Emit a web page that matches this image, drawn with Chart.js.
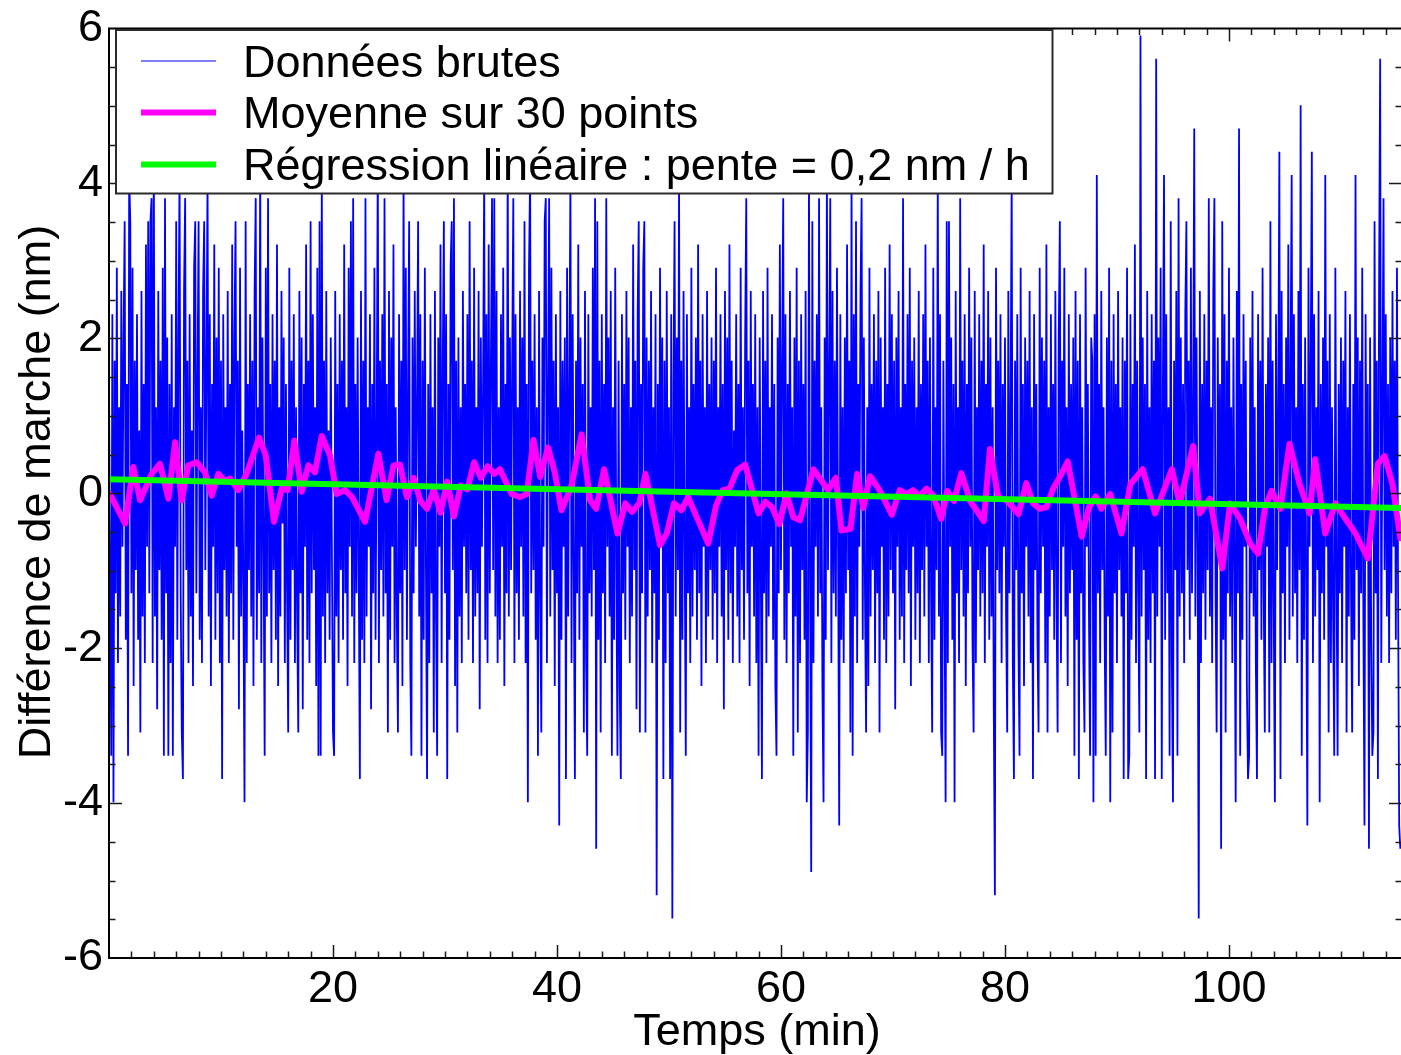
<!DOCTYPE html>
<html>
<head>
<meta charset="utf-8">
<script src="https://cdn.jsdelivr.net/npm/chart.js@4/dist/chart.umd.min.js"></script>
<style>
  html, body { margin: 0; padding: 0; background: #ffffff; overflow: hidden; }
  #wrap { position: relative; width: 1410px; height: 1055px; }
</style>
</head>
<body>
<div id="wrap"><canvas id="chart" width="1410" height="1055"></canvas></div>
<script>
// Sampling interval of the raw acquisition (minutes)
const SAMPLE_STEP_MIN = 0.1;

// Raw optical path difference samples (nm), one every SAMPLE_STEP_MIN
const rawValues = [
  1.41,-0.99,-3.39,2.31,-3.99,1.71,-1.29,2.91,-2.19,1.11,-1.59,2.61,-0.69,2.01,3.51,-1.89,1.41,-3.39,4.11,3.51,
  -1.29,2.91,-2.49,1.71,-0.99,2.31,-1.89,0.81,-3.09,2.61,-1.59,1.41,-2.19,3.21,-0.69,3.51,-1.29,3.51,3.81,-2.19,
  4.41,-1.59,1.11,-2.79,2.61,-0.99,1.71,-1.89,2.91,-3.39,3.81,-1.29,2.01,-3.39,1.41,-2.19,2.31,-3.39,1.11,-0.69,
  3.51,-1.89,2.01,4.11,-1.29,-3.09,-3.69,2.61,3.81,-0.99,1.71,-2.19,2.31,-1.59,0.81,-2.49,2.91,3.51,-1.29,1.41,
  3.51,-1.89,1.11,-2.19,2.61,3.51,-0.99,1.71,4.11,-1.59,2.31,-2.49,1.41,-0.69,3.21,-1.89,2.01,-1.29,2.91,-2.19,
  1.71,-3.69,2.31,-0.99,1.11,-1.59,2.61,-2.19,1.41,-1.29,3.21,-1.89,2.01,3.51,-0.69,1.71,-2.79,2.91,-1.59,0.81,
  -1.29,-3.99,3.51,-2.19,1.41,-0.99,2.31,-1.59,1.71,-2.49,2.61,3.81,-1.89,1.11,-1.29,4.41,-2.19,2.01,-0.69,-3.39,
  2.91,-1.59,3.81,-1.29,1.41,-2.19,2.31,-0.99,1.71,-1.89,3.21,-2.49,1.11,-1.59,2.61,-0.39,2.01,-2.19,1.41,-1.29,
  -3.09,2.91,-1.89,1.71,-0.99,2.31,-2.19,1.11,-1.59,-3.09,2.61,-1.29,2.01,-2.79,1.41,-0.69,3.21,-1.89,1.71,-2.19,
  3.51,-1.29,2.31,-0.99,1.11,-2.49,2.91,-3.39,3.51,-3.39,4.11,-1.59,1.71,-2.19,2.61,-1.29,0.81,-1.89,2.01,-0.69,
  -3.09,-3.39,2.61,-1.59,1.41,-2.19,2.31,-0.99,1.71,-1.89,3.21,-1.29,1.11,-2.49,2.91,-0.69,3.51,-1.59,3.81,-2.19,
  1.41,-1.29,2.01,-0.99,-3.69,2.61,-1.89,1.71,-2.19,3.81,-1.59,1.11,-0.69,2.31,-2.79,1.41,-1.29,2.91,-1.89,0.81,
  4.41,-2.19,1.71,-0.99,2.31,-1.59,3.81,-1.29,1.41,-3.09,2.61,-1.89,2.01,-0.69,3.21,-2.19,1.11,-1.59,-3.09,2.31,
  -1.29,1.71,-2.49,4.11,-0.99,2.91,-1.89,1.41,3.51,-2.19,-3.39,2.01,-1.29,2.61,-0.69,1.11,3.51,-1.59,2.31,-3.39,
  1.71,-1.89,2.91,-0.99,-3.69,1.41,-2.19,2.31,-1.29,1.11,-3.09,2.61,-1.59,-3.39,2.01,-0.69,3.21,-2.19,1.71,3.51,
  -1.29,2.31,-3.69,1.41,-1.89,2.91,3.51,-0.99,3.81,-2.49,1.71,-3.09,2.01,-1.59,1.11,-2.19,2.61,-0.69,1.41,-1.29,
  2.31,-1.89,3.51,-0.99,1.71,-2.19,2.91,-1.59,1.11,-1.29,2.61,-2.79,2.01,-0.69,1.41,4.11,-1.89,2.31,-2.19,3.21,
  -1.29,1.71,3.81,-0.99,3.81,-1.59,2.61,-2.19,1.11,-1.89,2.31,-0.69,2.91,-2.49,1.41,-1.29,4.41,-1.59,2.01,-0.99,
  1.71,3.81,-2.19,2.31,-1.29,1.11,-1.89,2.61,-0.69,2.01,-1.59,3.51,-2.19,1.41,-3.99,2.91,4.11,-1.29,1.71,-0.99,
  2.31,-1.89,1.11,-3.39,2.61,-1.29,-3.09,2.01,-0.69,3.51,3.81,-2.19,1.41,3.81,-1.59,2.91,-0.99,1.71,-2.49,2.31,
  -1.29,1.11,-4.29,2.61,-1.89,1.71,-0.69,2.01,-3.69,2.91,-1.59,1.41,4.11,-2.19,2.31,-0.99,-3.69,1.71,-1.29,3.21,
  -1.89,2.01,-0.69,1.41,-3.09,2.61,-2.19,-3.39,2.31,-1.29,1.11,-1.59,2.91,-0.99,3.81,-4.59,3.51,-1.89,1.71,-3.09,
  2.31,-1.29,1.41,-2.19,3.81,-0.69,2.01,-1.59,2.61,-3.39,1.11,-1.89,2.91,-0.99,-3.39,1.71,-2.49,-3.69,2.31,-1.29,
  1.41,-1.89,2.61,-0.69,2.01,-2.19,1.11,-1.59,3.21,-0.99,1.71,-2.79,2.31,3.51,-3.09,1.41,-1.29,2.91,3.51,-3.09,
  2.01,-1.59,1.71,-0.99,2.61,-2.19,1.11,-1.29,2.31,-5.19,1.41,-1.89,2.91,-0.69,2.01,-3.69,1.71,-2.19,2.61,-1.29,
  1.11,-3.69,2.31,-5.49,1.41,3.51,-1.59,2.01,-0.99,4.11,-3.09,1.71,-1.89,2.61,-0.69,-3.39,2.31,-1.29,1.11,-2.19,
  2.91,-1.59,1.41,-0.99,2.01,-1.89,3.21,-1.29,1.71,-2.49,2.31,-0.69,1.11,-2.19,2.61,-1.59,1.41,-0.99,2.01,-1.89,
  1.71,-1.29,2.91,-2.19,1.11,-0.69,2.31,-1.59,1.41,-2.79,2.61,-0.99,2.01,-1.89,3.21,-1.29,1.71,-2.19,0.81,-0.69,
  2.31,-1.59,1.41,-2.19,2.91,-0.99,1.11,-1.89,2.01,3.81,-1.29,1.71,-2.49,2.61,-0.69,1.41,-1.59,2.31,-2.19,1.11,
  -3.39,2.01,-0.99,-3.69,2.61,-1.29,1.71,-2.19,2.91,-1.59,1.11,-0.69,2.31,-1.89,1.41,-2.49,-3.39,2.01,-1.29,3.21,
  -0.99,1.71,3.81,-1.89,2.31,-2.19,1.41,-1.29,2.61,-0.69,1.11,-3.39,2.01,-1.59,2.91,-3.09,1.71,-2.19,2.31,-0.99,
  1.41,-1.89,2.61,-3.99,-3.09,4.11,-1.29,-4.89,3.51,-2.19,1.71,-0.69,2.31,-1.59,3.81,-1.29,1.11,-2.49,-3.99,2.01,
  -1.89,4.11,-0.99,1.41,3.81,-2.19,2.61,-1.29,1.71,-1.59,2.91,-0.69,-4.29,2.31,-1.89,1.11,-2.19,2.01,-1.29,3.21,
  -0.99,1.71,-3.09,4.11,-3.39,2.31,-1.59,3.51,-2.19,1.41,-0.69,2.61,3.81,-1.89,2.01,-1.29,-3.09,1.11,-2.49,2.91,
  -1.59,1.41,-0.99,2.31,-2.19,1.71,-1.29,2.61,-3.09,2.01,-0.69,1.11,-1.89,2.91,-2.19,1.41,-1.59,3.21,-0.99,2.31,
  -1.29,1.71,-2.79,2.01,-0.69,2.61,-1.89,1.11,-1.59,3.81,-2.19,1.41,-0.99,2.31,-1.29,2.91,-2.49,1.71,-0.69,2.01,
  -1.89,1.11,-1.29,2.61,-2.19,1.41,-0.99,2.31,-1.59,3.21,-0.69,1.71,-2.19,2.01,-1.29,-3.09,2.91,-1.89,1.11,-0.99,
  4.11,-1.59,2.31,-3.09,-3.39,1.71,-1.29,-3.99,3.51,-2.19,3.51,-0.69,2.01,-1.89,1.41,-3.99,2.61,-1.29,1.11,-2.19,
  3.81,-0.99,1.71,-1.59,2.31,-2.49,1.41,-1.29,2.91,-0.69,2.01,-1.89,-3.09,2.61,-2.19,1.11,-0.99,2.31,-1.59,1.71,
  -1.29,3.21,-2.19,1.41,-0.69,2.61,-1.89,2.01,-1.59,1.11,-2.79,-5.19,2.91,-0.99,1.71,-1.29,2.31,-2.19,1.41,-0.69,
  2.01,-1.59,-3.09,2.61,-1.29,1.11,4.11,-2.19,-3.69,1.71,-0.99,2.31,-1.89,-3.39,2.91,-1.29,1.41,-2.49,2.01,-0.69,
  1.71,-1.59,2.61,-2.19,1.11,-3.69,2.31,-0.99,1.41,-1.89,-3.09,2.91,-1.29,2.01,-0.69,1.71,-2.19,3.21,-3.09,1.11,
  -1.59,2.31,-0.99,1.41,-1.89,2.61,-1.29,-3.09,2.01,3.51,-2.19,1.71,-0.69,2.91,-1.59,1.11,-2.49,2.31,-1.29,1.41,
  -0.99,2.01,-3.39,2.61,-1.89,1.71,-3.69,2.31,-1.29,1.11,-2.19,-3.09,2.91,-0.69,1.41,-1.59,-3.39,2.01,1.71,-3.99,
  2.31,-3.39,4.11,-1.29,1.41,-2.19,2.61,-0.99,1.11,-1.89,-3.39,2.01,-1.59,2.91,-3.99,1.71,-3.09,2.31,-1.29,1.41,
  -2.19,2.61,-0.99,1.11,-1.59,2.01,-3.69,1.71,-1.29,2.91,-3.69,-3.39,2.31,-1.89,1.41,-0.69,3.21,-2.19,1.71,-1.29,
  -3.09,5.91,-1.59,2.01,-0.99,1.41,-3.69,2.61,-1.89,1.11,-2.19,2.31,-1.29,1.71,-3.69,5.61,-1.59,2.01,-0.69,2.91,
  -3.69,1.41,4.11,-1.89,2.31,-1.29,1.11,-3.39,3.51,-2.19,-3.99,1.71,-0.99,2.61,-3.39,3.81,-1.59,2.01,-1.29,1.41,
  -2.19,2.31,3.51,-0.99,1.71,-1.89,2.91,-1.29,1.11,4.71,-1.59,2.01,-0.69,-5.49,2.61,-2.19,1.41,-1.29,2.31,-1.89,
  1.71,-0.99,3.81,-1.59,1.11,-2.19,2.61,3.81,-1.29,-3.09,2.01,-0.69,1.41,-4.59,3.51,-1.89,2.31,-3.09,1.71,-1.29,
  2.91,-1.59,1.11,-2.19,2.01,-0.99,-3.99,2.61,-1.29,4.71,-3.39,1.41,-1.89,2.31,-0.69,1.71,-2.49,-3.69,-3.39,2.01,
  -1.29,2.61,-1.59,1.11,-2.19,-3.69,2.31,-0.99,1.71,-1.89,2.91,-1.29,-3.09,1.41,-0.69,2.01,-3.09,3.51,-2.19,1.71,
  -1.59,-3.99,2.31,-0.99,1.11,4.41,-3.69,2.61,-1.29,1.41,-2.19,2.01,-0.69,3.21,-1.89,1.71,4.11,-1.59,2.31,-1.29,
  1.11,-2.19,2.61,-0.99,5.01,-3.39,1.41,-1.89,2.01,-1.29,-4.29,2.91,-0.69,1.71,4.41,-2.19,2.31,-1.59,1.11,-0.99,
  2.61,-3.99,1.41,-1.29,2.01,-1.89,4.11,-0.69,1.71,-3.09,2.31,-2.19,1.11,-1.59,-3.39,2.91,-0.99,-3.39,1.41,-1.29,
  2.01,-2.19,1.71,-0.69,2.61,-3.09,1.11,-1.59,2.31,-1.29,-3.09,1.41,-1.89,4.11,-0.99,2.01,-2.49,1.71,-1.29,2.91,
  -1.59,-4.29,2.31,-0.69,1.41,-4.59,2.01,-1.89,-3.39,-3.09,3.51,-1.29,1.71,-3.69,2.61,5.61,-2.19,1.11,3.81,-0.99,
  2.31,-1.59,1.41,-2.19,2.01,-1.29,2.61,-0.69,1.71,-1.89,2.91,-1.29,-4.29,-4.59
];

// 30-point moving average: times (min) and values (nm)
const avgTimes = [
  0.09,1.43,2.17,2.77,3.81,4.55,5.3,5.9,6.49,7.08,7.83,8.57,9.17,9.76,10.36,10.8,11.55,12.29,13.4,13.99,
  14.73,15.42,15.95,16.55,17.2,17.8,18.39,18.99,19.73,20.33,21.07,21.7,22.86,24.05,24.79,25.4,25.98,
  26.6,27.2,27.8,28.4,29.0,29.6,30.2,30.8,31.4,32.0,32.6,33.2,33.8,34.4,
  34.9,35.95,36.7,37.3,37.9,38.5,39.2,39.8,40.4,41.3,42.2,42.95,43.5,44.2,45.4,46.1,46.7,47.35,47.9,49.2,
  49.8,50.45,51.1,51.7,53.5,54.2,54.8,55.4,56.1,56.8,58.0,58.6,59.2,59.85,60.5,61.1,61.7,
  62.9,64.2,64.9,65.4,66.2,66.8,67.35,67.95,68.8,69.9,70.6,71.2,71.8,72.35,73.0,73.6,74.3,74.85,75.45,76.1,
  76.9,78.1,78.66,79.4,80.15,81.2,81.9,82.5,83.1,83.7,84.3,84.9,85.6,86.25,86.85,87.5,88.1,
  88.6,89.4,90.4,91.2,92.3,93.4,94.9,95.6,96.8,97.4,98.3,99.4,100.1,101.0,101.9,102.6,103.2,103.8,104.6,105.4,
  106.3,107.2,107.7,108.6,109.5,110.4,111.3,112.4,113.3,113.9,114.6,115.3
];
const avgValues = [
  -0.01,-0.39,0.34,-0.09,0.25,0.38,-0.07,0.66,-0.09,0.36,0.40,0.27,-0.03,0.25,0.16,0.19,0.04,0.25,0.72,0.49,
  -0.37,0.06,0.04,0.68,0.02,0.36,0.27,0.74,0.49,-0.01,0.04,-0.05,-0.37,0.51,-0.09,0.36,0.37,
  -0.05,0.20,-0.10,-0.20,0.05,-0.25,0.15,-0.30,0.10,0.05,0.40,0.20,0.35,0.25,
  0.31,-0.01,-0.05,-0.01,0.69,0.21,0.59,0.27,-0.22,0.10,0.76,-0.09,-0.20,0.31,-0.52,-0.13,-0.24,-0.13,0.25,-0.67,
  -0.52,-0.13,-0.22,-0.05,-0.65,-0.16,0.04,0.06,0.30,0.37,-0.26,-0.11,-0.18,-0.40,0.00,-0.31,-0.35,
  0.31,0.04,0.20,-0.48,-0.46,0.25,-0.19,0.22,0.04,-0.28,0.04,-0.01,0.04,-0.04,0.06,-0.03,-0.33,0.03,-0.10,0.26,
  -0.10,-0.36,0.57,-0.05,-0.09,-0.27,0.13,-0.13,-0.20,-0.18,0.06,0.21,0.41,-0.09,-0.56,-0.18,-0.04,
  -0.20,-0.01,-0.52,0.12,0.31,-0.26,0.31,-0.13,0.61,-0.26,-0.07,-0.97,-0.13,-0.33,-0.65,-0.78,-0.20,0.03,-0.20,0.64,
  0.12,-0.26,0.44,-0.52,-0.13,-0.33,-0.52,-0.84,0.38,0.48,0.12,-0.58
];

// Linear regression end points (min, nm)
const fitTimes = [0, 115.45];
const fitValues = [0.18, -0.19];

// Axis labelling
const xTickLabels = [20, 40, 60, 80, 100];
const yTickLabels = [-6, -4, -2, 0, 2, 4, 6];
const xTitle = 'Temps (min)';
const yTitle = 'Différence de marche (nm)';
const seriesLabels = [
  'Données brutes',
  'Moyenne sur 30 points',
  'Régression linéaire : pente = 0,2 nm / h'
];
const seriesColors = ['#0000ff', '#ff00ff', '#00ff00'];
const seriesWidths = [1.8, 6, 6];
const legendSampleWidths = [1, 6, 6];

const FONT = "'Liberation Sans', Arial, Helvetica, sans-serif";
const FONT_SIZE = 45;

const rawPoints = rawValues.map((v, i) => ({ x: i * SAMPLE_STEP_MIN, y: v }));
const avgPoints = avgTimes.map((t, i) => ({ x: t, y: avgValues[i] }));
const fitPoints = fitTimes.map((t, i) => ({ x: t, y: fitValues[i] }));

// Frame, inward tick marks, axis titles and the boxed legend
const decorations = {
  id: 'decorations',
  afterDatasetsDraw(chart) {
    const { ctx, chartArea: a, scales } = chart;
    const xs = scales.x, ys = scales.y;
    ctx.save();

    // tick marks (inside, on all four sides)
    ctx.strokeStyle = '#1a1a1a';
    ctx.lineWidth = 1.5;
    ctx.beginPath();
    for (let v = 2; v < xs.max; v += 2) {
      const px = Math.round(xs.getPixelForValue(v)) + 0.5;
      const len = (v % 20 === 0) ? 13 : 6.5;
      ctx.moveTo(px, a.bottom); ctx.lineTo(px, a.bottom - len);
      ctx.moveTo(px, a.top); ctx.lineTo(px, a.top + len);
    }
    for (let k = -11; k <= 11; k++) {
      const v = k * 0.5;
      const py = Math.round(ys.getPixelForValue(v)) + 0.5;
      const len = (k % 4 === 0) ? 13 : 6.5;
      ctx.moveTo(a.left, py); ctx.lineTo(a.left + len, py);
      ctx.moveTo(a.right, py); ctx.lineTo(a.right - len, py);
    }
    ctx.stroke();

    // plot frame
    ctx.strokeStyle = '#000000';
    ctx.lineWidth = 2;
    ctx.strokeRect(a.left, a.top, a.right - a.left, a.bottom - a.top);

    // axis titles
    ctx.fillStyle = '#000000';
    ctx.font = FONT_SIZE + 'px ' + FONT;
    ctx.textAlign = 'center';
    ctx.textBaseline = 'alphabetic';
    ctx.fillText(xTitle, 757, 1044.5);
    ctx.save();
    ctx.translate(50, 492);
    ctx.rotate(-Math.PI / 2);
    ctx.fillText(yTitle, 0, 0);
    ctx.restore();

    // legend
    ctx.fillStyle = '#ffffff';
    ctx.fillRect(116, 30, 936.5, 163.5);
    ctx.strokeStyle = '#2b2b2b';
    ctx.lineWidth = 2;
    ctx.strokeRect(116, 30, 936.5, 163.5);
    const rowsY = [61, 112.5, 164.5];
    const baseY = [76.5, 128.2, 179.6];
    ctx.textAlign = 'left';
    chart.data.datasets.forEach((ds, i) => {
      ctx.strokeStyle = ds.borderColor;
      ctx.lineWidth = legendSampleWidths[i];
      ctx.beginPath();
      ctx.moveTo(141, rowsY[i]);
      ctx.lineTo(216, rowsY[i]);
      ctx.stroke();
      ctx.fillStyle = '#000000';
      ctx.fillText(ds.label, 243, baseY[i]);
    });
    ctx.restore();
  }
};

new Chart(document.getElementById('chart'), {
  type: 'line',
  data: {
    datasets: [
      { label: seriesLabels[0], data: rawPoints, borderColor: seriesColors[0], borderWidth: seriesWidths[0], pointRadius: 0, tension: 0, order: 3 },
      { label: seriesLabels[1], data: avgPoints, borderColor: seriesColors[1], borderWidth: seriesWidths[1], pointRadius: 0, tension: 0, order: 2, borderJoinStyle: 'round', borderCapStyle: 'round' },
      { label: seriesLabels[2], data: fitPoints, borderColor: seriesColors[2], borderWidth: seriesWidths[2], pointRadius: 0, tension: 0, order: 1 }
    ]
  },
  options: {
    responsive: false,
    animation: false,
    devicePixelRatio: 1,
    events: [],
    layout: { padding: { top: 23, right: 8, left: 0, bottom: 0 } },
    plugins: { legend: { display: false }, tooltip: { enabled: false } },
    scales: {
      x: {
        type: 'linear',
        min: 0,
        max: 115.45,
        afterFit: (s) => { s.height = 97; },
        grid: { display: false, drawTicks: false },
        border: { display: false },
        ticks: {
          stepSize: 20,
          includeBounds: false,
          autoSkip: false,
          maxRotation: 0,
          padding: 9,
          color: '#000000',
          font: { family: FONT, size: FONT_SIZE, lineHeight: 1 },
          callback: (v) => xTickLabels.includes(v) ? String(v) : ''
        }
      },
      y: {
        type: 'linear',
        min: -6,
        max: 6,
        afterFit: (s) => { s.width = 109; },
        grid: { display: false, drawTicks: false },
        border: { display: false },
        ticks: {
          stepSize: 2,
          autoSkip: false,
          padding: 6,
          color: '#000000',
          font: { family: FONT, size: FONT_SIZE, lineHeight: 1 },
          callback: (v) => yTickLabels.includes(v) ? String(v) : ''
        }
      }
    }
  },
  plugins: [decorations]
});
</script>
</body>
</html>
